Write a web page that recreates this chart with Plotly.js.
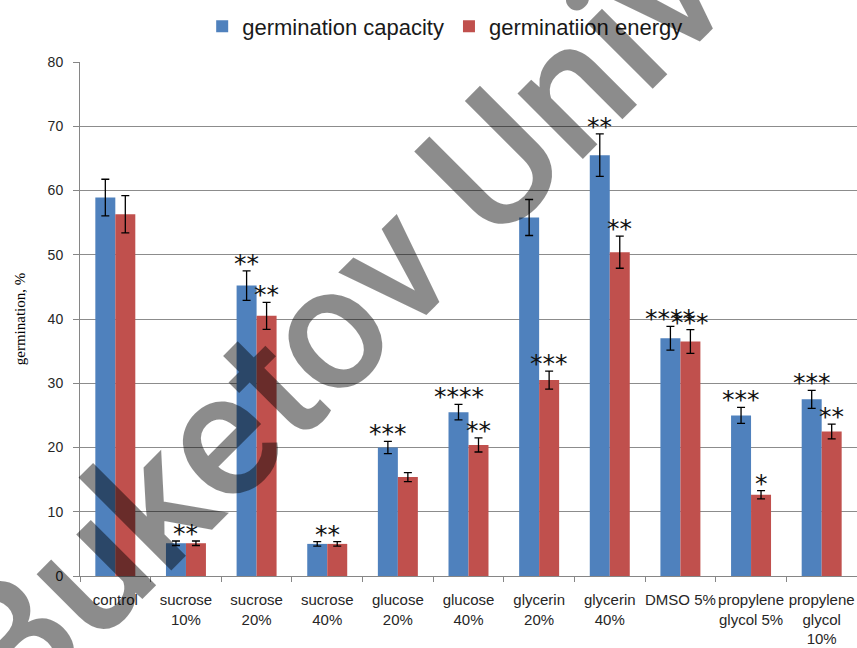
<!DOCTYPE html>
<html>
<head>
<meta charset="utf-8">
<script src="https://cdn.plot.ly/plotly-3.0.1.min.js"></script>
<style>html,body{margin:0;padding:0;background:#fff;}#chart{width:857px;height:648px;}</style>
</head>
<body>
<div id="chart"></div>
<script>
var categories = ['control', 'sucrose<br>10%', 'sucrose<br>20%', 'sucrose<br>40%', 'glucose<br>20%', 'glucose<br>40%', 'glycerin<br>20%', 'glycerin<br>40%', 'DMSO 5%', 'propylene<br>glycol 5%', 'propylene<br>glycol<br>10%'];
var capacity = [58.9, 5.1, 45.2, 5.0, 20.0, 25.5, 55.8, 65.5, 37.0, 25.0, 27.5];
var capacityErr = [2.85, 0.35, 2.3, 0.35, 0.95, 1.2, 2.8, 3.3, 1.85, 1.25, 1.4];
var energy = [56.3, 5.1, 40.5, 5.0, 15.4, 20.4, 30.5, 50.4, 36.5, 12.65, 22.5];
var energyErr = [2.9, 0.35, 2.1, 0.35, 0.7, 1.1, 1.4, 2.5, 1.85, 0.65, 1.15];
var starsCapacity = ['', '', '**', '', '***', '****', '', '**', '****', '***', '***'];
var starsEnergy = ['', '', '**', '', '', '**', '***', '**', '***', '*', '**'];
var starsPair = ['', '**', '', '**', '', '', '', '', '', '', ''];
var yTicks = [0, 10, 20, 30, 40, 50, 60, 70, 80];

var BLUE = '#4F81BD', RED = '#C0504D';
var errStyle = {color: '#000000', thickness: 1.3, width: 4};

var traces = [
  {type: 'bar', name: 'germination capacity', x: categories, y: capacity,
   marker: {color: BLUE},
   error_y: Object.assign({type: 'data', array: capacityErr, visible: true}, errStyle)},
  {type: 'bar', name: 'germinatiion energy', x: categories, y: energy,
   marker: {color: RED},
   error_y: Object.assign({type: 'data', array: energyErr, visible: true}, errStyle)}
];

var starFont = {family: 'DejaVu Sans', size: 25, color: '#111111'};
var annotations = [];
function addStars(labels, vals, errs, shift) {
  labels.forEach(function (s, i) {
    if (!s) return;
    annotations.push({xref: 'x', yref: 'y', x: categories[i], y: vals[i] + errs[i],
      xshift: shift, yshift: -9, xanchor: 'center', yanchor: 'bottom', showarrow: false, text: s, font: starFont});
  });
}
addStars(starsCapacity, capacity, capacityErr, -10);
addStars(starsEnergy, energy, energyErr, 10);
addStars(starsPair, capacity.map(function (v, i) { return Math.max(v + capacityErr[i], energy[i] + energyErr[i]); }), capacity.map(function () { return 0; }), 0);

annotations.push({xref: 'paper', yref: 'paper', x: 0.328, y: 0.494, xanchor: 'center', yanchor: 'middle',
  showarrow: false, text: 'Buketov Univ', textangle: -45,
  font: {family: 'Roboto', size: 175, weight: 500, color: 'rgba(0,0,0,0.45)'}});

var layout = {
  width: 857, height: 648,
  margin: {l: 80, r: 0, t: 62, b: 72},
  paper_bgcolor: '#ffffff', plot_bgcolor: '#ffffff',
  barmode: 'group', bargap: 0.434, bargroupgap: 0,
  showlegend: true,
  legend: {orientation: 'h', x: 0.47, xanchor: 'center', y: 1.11, yanchor: 'top',
    font: {family: 'Liberation Sans', size: 22, color: '#1a1a1a'}, itemwidth: 30, traceorder: 'normal'},
  xaxis: {type: 'category', tickson: 'boundaries', ticks: 'outside', ticklen: 5, tickcolor: '#868686',
    tickangle: 0, automargin: false,
    showline: true, linecolor: '#868686', linewidth: 1, showgrid: false,
    tickfont: {family: 'Liberation Sans', size: 15, color: '#262626'}, ticklabelstandoff: 10,
    fixedrange: true},
  yaxis: {range: [0, 80], tickvals: yTicks, ticks: 'outside', ticklen: 6, tickcolor: '#868686',
    showline: true, linecolor: '#868686', linewidth: 1, automargin: false,
    showgrid: true, gridcolor: '#8c8c8c', gridwidth: 1, zeroline: false,
    tickfont: {family: 'Liberation Sans', size: 14, color: '#262626'}, ticklabelstandoff: 7,
    title: {text: 'germination, %', font: {family: 'Liberation Serif', size: 15, color: '#000000'}, standoff: 18},
    fixedrange: true},
  annotations: annotations
};

Plotly.newPlot('chart', traces, layout, {staticPlot: true, displayModeBar: false});
</script>
</body>
</html>
